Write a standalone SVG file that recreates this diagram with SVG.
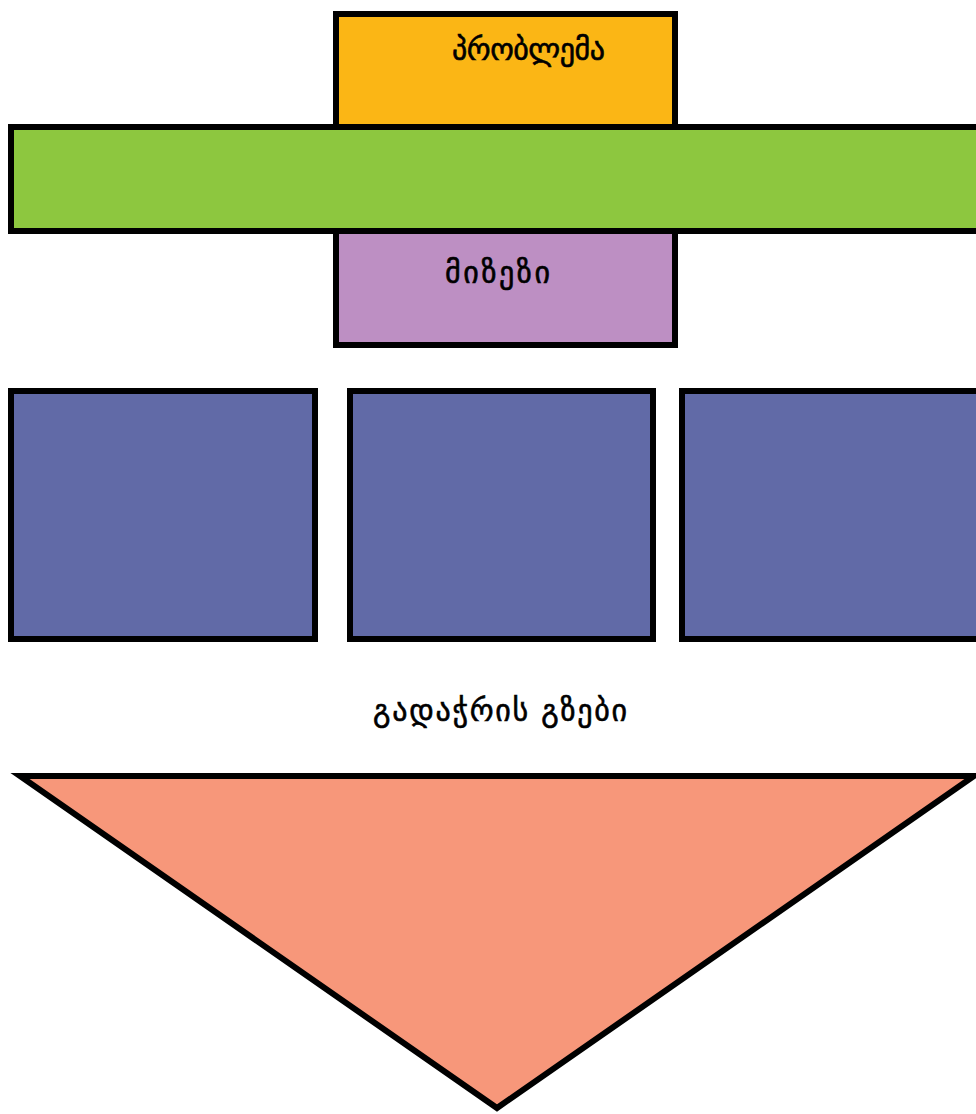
<svg xmlns="http://www.w3.org/2000/svg" width="976" height="1114" viewBox="0 0 976 1114">
<style>
.s{stroke:#000;stroke-width:6;stroke-miterlimit:10}
.t{font-family:"DejaVu Sans","Noto Sans",sans-serif;font-size:30px;fill:#000;text-anchor:middle;stroke:#000;stroke-width:0.6}
</style>
<rect width="976" height="1114" fill="#fff"/>
<g id="problem">
<rect class="s" x="336" y="14" width="339" height="140" fill="#FBB615"/>
<text class="t" x="528.5" y="60" textLength="153">პრობლემა</text>
</g>
<g id="cause">
<rect class="s" x="336" y="205" width="339" height="140" fill="#BD8FC3"/>
<text class="t" x="497.5" y="283" textLength="105">მიზეზი</text>
</g>
<g id="bar">
<rect class="s" x="11" y="127" width="972" height="104" fill="#8DC73F"/>
</g>
<g id="box1"><rect class="s" x="11" y="391" width="304" height="248" fill="#616AA7"/></g>
<g id="box2"><rect class="s" x="350" y="391" width="303" height="248" fill="#616AA7"/></g>
<g id="box3"><rect class="s" x="682" y="391" width="304" height="248" fill="#616AA7"/></g>
<g id="solutions">
<text class="t" x="500" y="721" textLength="254">გადაჭრის გზები</text>
</g>
<g id="triangle">
<polygon class="s" points="20,776 974,776 497,1108" fill="#F7977A"/>
</g>
<g id="connectors"></g>
</svg>
